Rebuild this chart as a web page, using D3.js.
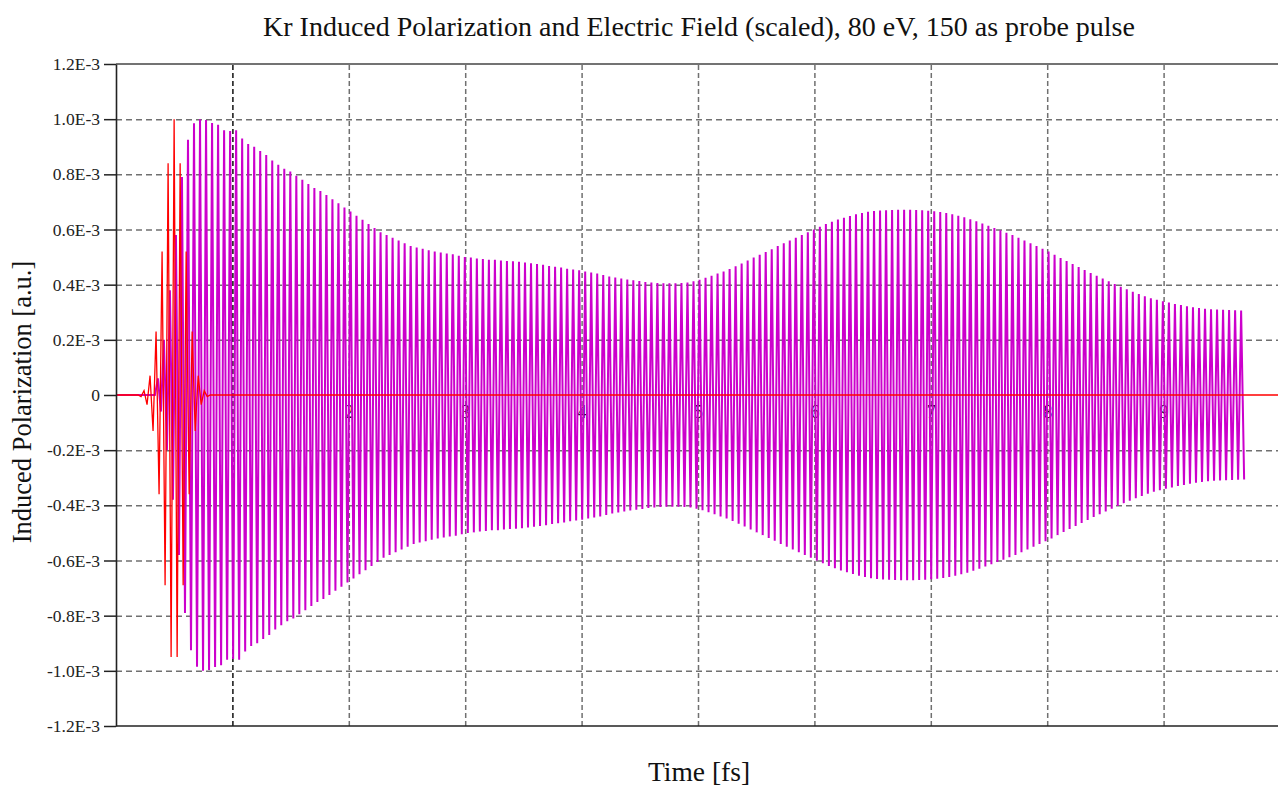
<!DOCTYPE html>
<html>
<head>
<meta charset="utf-8">
<script src="https://cdn.jsdelivr.net/npm/d3@7"></script>
<style>
  html, body { margin: 0; padding: 0; background: #fff; }
  svg { display: block; }
  text { font-family: "Liberation Serif", "DejaVu Serif", serif; }
</style>
</head>
<body>
<svg id="chart" width="1278" height="787"></svg>
<script>
// ---------------- data ----------------
const titleText = "Kr Induced Polarization and Electric Field (scaled), 80 eV, 150 as probe pulse";
const xLabelText = "Time [fs]";
const yLabelText = "Induced Polarization [a.u.]";

const xDomain = [0, 10];
const yDomain = [-1.2e-3, 1.2e-3];
const xGridValues = [1, 2, 3, 4, 5, 6, 7, 8, 9];
const xTickLabelValues = [2, 3, 4, 5, 6, 7, 8, 9];
const yTickValues = [1.2e-3, 1.0e-3, 0.8e-3, 0.6e-3, 0.4e-3, 0.2e-3, 0, -0.2e-3, -0.4e-3, -0.6e-3, -0.8e-3, -1.0e-3, -1.2e-3];
const yTickLabels = ["1.2E-3", "1.0E-3", "0.8E-3", "0.6E-3", "0.4E-3", "0.2E-3", "0", "-0.2E-3", "-0.4E-3", "-0.6E-3", "-0.8E-3", "-1.0E-3", "-1.2E-3"];
const yGridValues = [1.0e-3, 0.8e-3, 0.6e-3, 0.4e-3, 0.2e-3, -0.2e-3, -0.4e-3, -0.6e-3, -0.8e-3, -1.0e-3];

// induced polarization: time grid (fs) and amplitude of every carrier cycle (units of 1E-3)
const polStart = 0.36;          // first peak time [fs]
const polPeriod = 0.0517;       // carrier period [fs] (80 eV)
const polEnd = 9.68;            // last sample time [fs]
const polAmp = [0.06,0.20,0.38,0.58,0.79,0.925,0.985,1.0,0.997,0.986,0.98,0.96,0.957,0.96,0.93,0.91,0.90,0.885,0.87,0.85,
  0.835,0.82,0.81,0.795,0.78,0.765,0.75,0.74,0.725,0.71,0.695,0.68,0.665,0.65,0.635,0.62,0.605,0.59,0.58,0.57,
  0.56,0.55,0.54,0.535,0.53,0.525,0.52,0.517,0.513,0.51,0.505,0.50,0.498,0.495,0.493,0.49,0.49,0.488,0.486,0.485,
  0.483,0.48,0.478,0.475,0.472,0.468,0.465,0.462,0.458,0.455,0.452,0.448,0.444,0.44,0.435,0.43,0.426,0.422,0.419,0.416,
  0.413,0.41,0.408,0.406,0.405,0.405,0.405,0.406,0.408,0.412,0.418,0.425,0.432,0.44,0.448,0.457,0.467,0.477,0.488,0.498,
  0.508,0.518,0.528,0.54,0.55,0.56,0.57,0.58,0.59,0.60,0.61,0.62,0.628,0.636,0.643,0.649,0.655,0.66,0.664,0.667,
  0.669,0.67,0.671,0.672,0.672,0.672,0.671,0.67,0.668,0.666,0.663,0.66,0.655,0.65,0.644,0.637,0.63,0.622,0.614,0.605,
  0.597,0.588,0.58,0.57,0.56,0.55,0.54,0.53,0.52,0.508,0.497,0.486,0.475,0.464,0.453,0.442,0.432,0.422,0.412,0.402,
  0.392,0.383,0.374,0.366,0.358,0.351,0.345,0.34,0.335,0.33,0.326,0.322,0.318,0.315,0.313,0.311,0.31,0.309,0.308,0.307,0.306];

// electric field (scaled): alternating half-cycle extrema (units of 1E-3)
const fieldStart = 0.215;       // first extremum time [fs]
const fieldHalfStep = 0.02585;  // half carrier period [fs]
const fieldPeaks = [-0.006,0.016,-0.035,0.07,-0.13,0.23,-0.36,0.52,-0.69,0.84,-0.95,1.0,-0.95,0.84,-0.69,0.52,-0.36,0.23,-0.13,0.07,-0.035,0.016,-0.006];

// ---------------- build series ----------------
const polSeries = [[0, 0], [polStart - polPeriod / 2, 0]];
polAmp.forEach((a, i) => {
  const t = polStart + i * polPeriod;
  polSeries.push([t, a * 1e-3]);
  polSeries.push([t + polPeriod / 2, -a * 1e-3]);
});
polSeries.push([polEnd, -0.02e-3]);

const fieldSeries = [[0, 0], [fieldStart - fieldHalfStep, 0]];
fieldPeaks.forEach((v, i) => fieldSeries.push([fieldStart + i * fieldHalfStep, v * 1e-3]));
fieldSeries.push([fieldStart + fieldPeaks.length * fieldHalfStep, 0]);
fieldSeries.push([xDomain[1], 0]);

// ---------------- layout ----------------
const W = 1278, H = 787;
const mLeft = 116, mTop = 64, mBottom = 726, mRightEnd = 1280;
const svg = d3.select("#chart");
svg.append("rect").attr("width", W).attr("height", H).attr("fill", "#fff");

const x = d3.scaleLinear().domain(xDomain).range([mLeft, mRightEnd]);
const y = d3.scaleLinear().domain(yDomain).range([mBottom, mTop]);

// grid: horizontal
const hGrid = svg.append("g").attr("transform", `translate(${mLeft},0)`)
  .call(d3.axisLeft(y).tickValues(yGridValues).tickSize(-(mRightEnd - mLeft)).tickFormat(""));
hGrid.select(".domain").remove();
hGrid.selectAll("line").attr("stroke", "#707070").attr("stroke-width", 1.5).attr("stroke-dasharray", "6,4");

// grid: vertical
const vGrid = svg.append("g").attr("transform", `translate(0,${mBottom})`)
  .call(d3.axisBottom(x).tickValues(xGridValues).tickSize(-(mBottom - mTop)).tickFormat(""));
vGrid.select(".domain").remove();
vGrid.selectAll("line")
  .attr("stroke", d => d === 1 ? "#111" : "#707070")
  .attr("stroke-width", 1.5)
  .attr("stroke-dasharray", "5,3")
  .attr("stroke-dashoffset", -8);

// x tick labels inside the plot, below zero line (drawn under the data)
const xLab = svg.append("g").attr("transform", `translate(0,${y(0)})`)
  .call(d3.axisBottom(x).tickValues(xTickLabelValues).tickSize(0).tickPadding(10).tickFormat(d3.format("d")));
xLab.select(".domain").remove();
xLab.selectAll("text").attr("font-size", 18).attr("fill", "#1a1a1a")
  .attr("font-family", "Liberation Serif, serif");

// data lines
const line = d3.line().x(d => x(d[0])).y(d => y(d[1]));
svg.append("path").datum(polSeries).attr("d", line)
  .attr("fill", "none").attr("stroke", "#cc00cc").attr("stroke-width", 2.0).attr("stroke-linejoin", "miter");
svg.append("path").datum(fieldSeries).attr("d", line)
  .attr("fill", "none").attr("stroke", "#ff0000").attr("stroke-width", 1.3);

// frame lines
svg.append("line").attr("x1", mLeft).attr("x2", W).attr("y1", mTop).attr("y2", mTop)
  .attr("stroke", "#444").attr("stroke-width", 1.5);
svg.append("line").attr("x1", mLeft).attr("x2", W).attr("y1", mBottom).attr("y2", mBottom)
  .attr("stroke", "#222").attr("stroke-width", 1.5);

// left axis
const yAxis = svg.append("g").attr("transform", `translate(${mLeft},0)`)
  .call(d3.axisLeft(y).tickValues(yTickValues).tickSize(12).tickSizeOuter(0).tickPadding(4)
    .tickFormat((d, i) => yTickLabels[i]));
yAxis.select(".domain").attr("stroke", "#222").attr("stroke-width", 1.6);
yAxis.selectAll("line").attr("stroke", "#222").attr("stroke-width", 1.5);
yAxis.selectAll("text").attr("font-size", 17.5).attr("fill", "#222")
  .attr("font-family", "Liberation Serif, serif");

// titles
svg.append("text").attr("x", 699).attr("y", 36).attr("text-anchor", "middle")
  .attr("font-size", 28).attr("fill", "#111").text(titleText);
svg.append("text").attr("x", 699).attr("y", 781).attr("text-anchor", "middle")
  .attr("font-size", 27.5).attr("fill", "#111").text(xLabelText);
svg.append("text").attr("transform", `translate(31,402) rotate(-90)`)
  .attr("text-anchor", "middle").attr("font-size", 26.5).attr("fill", "#111").text(yLabelText);
</script>
</body>
</html>
